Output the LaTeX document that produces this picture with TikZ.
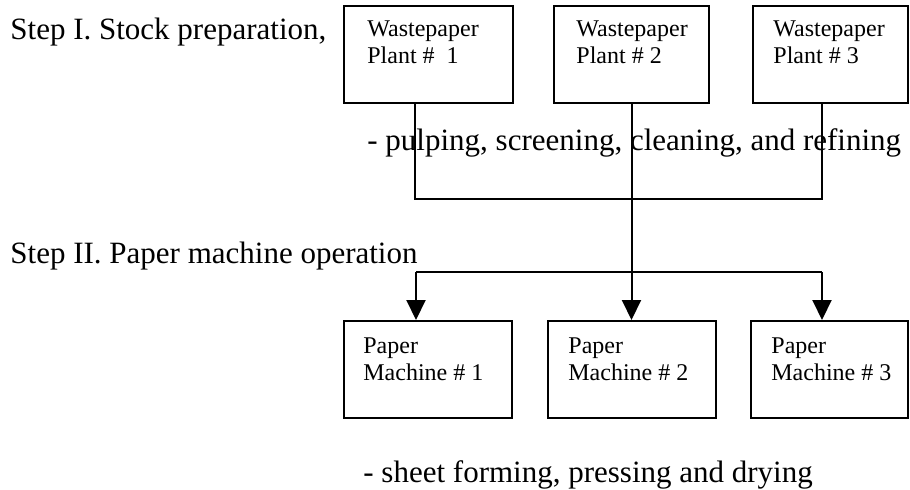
\documentclass[tikz,border=0pt]{standalone}
\usepackage{fontspec}
\setmainfont{Liberation Serif}
\usetikzlibrary{arrows.meta}

\tikzset{
  box/.style={draw, line width=1pt, anchor=north west, minimum height=48.5pt, inner sep=0pt},
  boxtext/.style={anchor=north west, inner sep=0pt, align=left, font=\fontsize{12pt}{13.5pt}\selectfont},
  steptext/.style={anchor=base west, inner sep=0pt, font=\fontsize{15.5pt}{18pt}\selectfont},
  link/.style={line width=1pt},
  arr/.style={link, -{Triangle[length=10pt,width=9.5pt]}}
}

\begin{document}
\begin{tikzpicture}[x=0.5pt,y=-0.5pt]
\useasboundingbox (0,0) rectangle (910,489);

% steps
\node[steptext] (s1) at (10,39) {Step I. Stock preparation,};
\node[steptext] (s1a) at (367,150) {- pulping, screening, cleaning, and refining};
\node[steptext] (s2) at (10,263) {Step II. Paper machine operation};
\node[steptext] (s2a) at (363,482) {- sheet forming, pressing and drying};

% wastepaper plants
\node[box, minimum width=84.5pt] (w1) at (343,5) {};
\node[box, minimum width=77.5pt] (w2) at (553,5) {};
\node[box, minimum width=77.5pt] (w3) at (752,5) {};
\node[boxtext] (w1t) at ([shift={(24,15)}]w1.north west) {Wastepaper\\Plant \#\ \ 1};
\node[boxtext] (w2t) at ([shift={(23,15)}]w2.north west) {Wastepaper\\Plant \# 2};
\node[boxtext] (w3t) at ([shift={(21,15)}]w3.north west) {Wastepaper\\Plant \# 3};

% paper machines
\node[box, minimum width=84pt] (m1) at (343,320) {};
\node[box, minimum width=84pt] (m2) at (547,320) {};
\node[box, minimum width=78.5pt] (m3) at (750,320) {};
\node[boxtext] (m1t) at ([shift={(20,17)}]m1.north west) {Paper\\Machine \# 1};
\node[boxtext] (m2t) at ([shift={(21,17)}]m2.north west) {Paper\\Machine \# 2};
\node[boxtext] (m3t) at ([shift={(21,17)}]m3.north west) {Paper\\Machine \# 3};

% connectors
\coordinate (j1) at (415,199);
\coordinate (j3) at (822,199);
\coordinate (k1) at (416,272);
\coordinate (k3) at (822,272);
\draw[link] (w1.south -| j1) -- (j1) -- (j3) -- (w3.south -| j3);
\draw[arr] (w2.south) -- (w2.south |- m2.north);
\draw[link] (k1) -- (k3);
\draw[arr] (k1) -- (k1 |- m1.north);
\draw[arr] (k3) -- (k3 |- m3.north);
\end{tikzpicture}
\end{document}
